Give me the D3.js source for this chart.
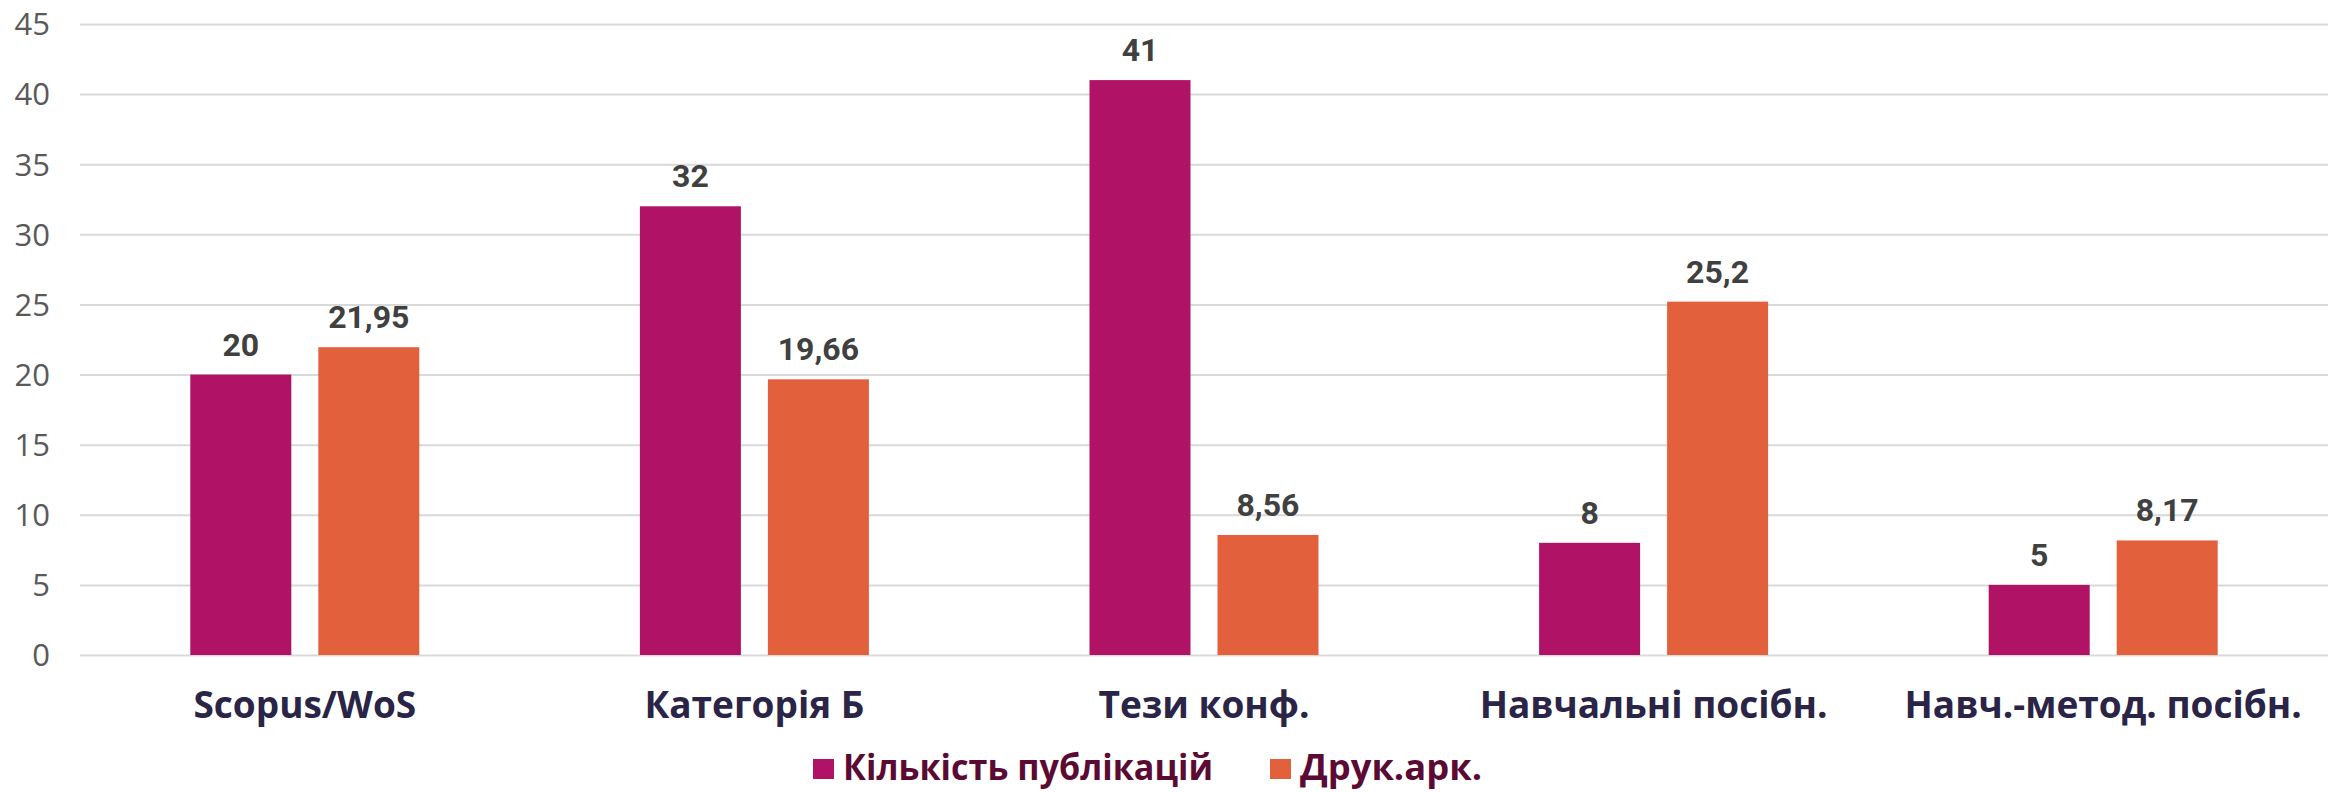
<!DOCTYPE html>
<html>
<head>
<meta charset="utf-8">
<script src="https://cdn.jsdelivr.net/npm/d3@7"></script>
<style>
  html, body { margin: 0; padding: 0; background: #fff; }
  svg { display: block; }
</style>
</head>
<body>
<svg id="chart" width="2336" height="792"></svg>
<script>
const categories = ["Scopus/WoS", "Категорія Б", "Тези конф.", "Навчальні посібн.", "Навч.-метод. посібн."];
const seriesNames = ["Кількість публікацій", "Друк.арк."];
const publications = [20, 32, 41, 8, 5];
const printSheets = [21.95, 19.66, 8.56, 25.2, 8.17];
const yTicks = [0, 5, 10, 15, 20, 25, 30, 35, 40, 45];
const colors = ["#B01365", "#E2603C"];

(function () {
const svg = d3.select("#chart");
const plotLeft = 80, plotRight = 2328, plotTop = 24, plotBottom = 655;

const y = d3.scaleLinear().domain([0, 45]).range([plotBottom, plotTop]);
const x0 = d3.scaleBand().domain(categories).range([plotLeft, plotRight]).padding(0);
const groupW = 229;
const x1 = d3.scaleBand().domain(seriesNames)
  .range([(x0.bandwidth() - groupW) / 2, (x0.bandwidth() + groupW) / 2])
  .paddingInner(27 / 128).paddingOuter(0);

// gridlines
const yAxis = d3.axisLeft(y).tickValues(yTicks).tickSize(-(plotRight - plotLeft)).tickFormat(d => d);
const gAxis = svg.append("g").attr("transform", `translate(${plotLeft},0)`).call(yAxis);
gAxis.select(".domain").remove();
gAxis.selectAll(".tick line").attr("stroke", "#d9d9d9").attr("stroke-width", 2);
gAxis.selectAll(".tick text")
  .attr("x", -30)
  .attr("dy", "0.35em")
  .attr("fill", "#595959")
  .style("font-family", "'Open Sans', sans-serif")
  .style("font-size", "31px");

const data = categories.map((c, i) => ({cat: c, vals: [
  {s: seriesNames[0], v: publications[i], i: 0},
  {s: seriesNames[1], v: printSheets[i], i: 1}
]}));

const groups = svg.append("g").selectAll("g").data(data).join("g")
  .attr("transform", d => `translate(${x0(d.cat)},0)`);

groups.selectAll("rect").data(d => d.vals).join("rect")
  .attr("x", d => x1(d.s))
  .attr("width", x1.bandwidth())
  .attr("y", d => y(d.v))
  .attr("height", d => y(0) - y(d.v))
  .attr("fill", d => colors[d.i]);

const fmt = v => String(v).replace(".", ",");
groups.selectAll("text.val").data(d => d.vals).join("text")
  .attr("class", "val")
  .attr("x", d => x1(d.s) + x1.bandwidth() / 2)
  .attr("y", d => y(d.v) - 19)
  .attr("text-anchor", "middle")
  .attr("fill", "#404040")
  .style("font-family", "Roboto, sans-serif")
  .style("font-weight", "700")
  .style("font-size", "32px")
  .text(d => fmt(d.v));

// category labels
svg.append("g").selectAll("text").data(categories).join("text")
  .attr("x", d => x0(d) + x0.bandwidth() / 2)
  .attr("y", 718)
  .attr("text-anchor", "middle")
  .attr("fill", "#2a2446")
  .style("font-family", "'Open Sans', sans-serif")
  .style("font-weight", "700")
  .style("font-size", "37px")
  .text(d => d);

// legend
const legend = [
  {name: seriesNames[0], color: colors[0], x: 813, tx: 843, w: 370},
  {name: seriesNames[1], color: colors[1], x: 1270, tx: 1300, w: 182}
];
const lg = svg.append("g");
lg.selectAll("rect").data(legend).join("rect")
  .attr("x", d => d.x).attr("y", 759).attr("width", 21).attr("height", 20)
  .attr("fill", d => d.color);
lg.selectAll("text").data(legend).join("text")
  .attr("x", d => d.tx).attr("y", 780)
  .attr("fill", "#5a0a33")
  .attr("textLength", d => d.w)
  .attr("lengthAdjust", "spacingAndGlyphs")
  .style("font-family", "'Open Sans', sans-serif")
  .style("font-weight", "700")
  .style("font-size", "35px")
  .text(d => d.name);
})();
</script>
</body>
</html>
